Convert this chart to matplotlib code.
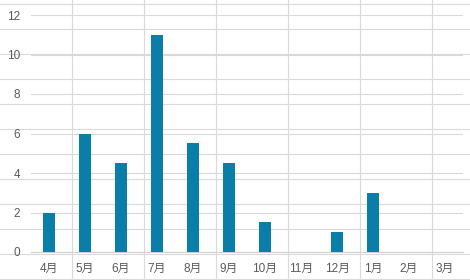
import matplotlib.pyplot as plt

plt.rcParams['font.family'] = ['Liberation Sans', 'Noto Sans CJK SC', 'DejaVu Sans']

# Monthly values (fiscal year Apr - Mar)
months = ["4月", "5月", "6月", "7月", "8月", "9月", "10月", "11月", "12月", "1月", "2月", "3月"]
values = [2, 6, 4.5, 11, 5.5, 4.5, 1.5, 0, 1, 3, 0, 0]
y_ticks = [0, 2, 4, 6, 8, 10, 12]

W, H = 470, 280
fig = plt.figure(figsize=(W / 100, H / 100), dpi=100)

# Spreadsheet cell grid behind the chart
bg = fig.add_axes([0, 0, 1, 1], zorder=-1)
bg.set_xlim(0, W)
bg.set_ylim(H, 0)
bg.axis("off")
for yy in range(4, H, 25):
    bg.axhline(yy, color="#dadada", lw=0.8)
for xx in range(72, W, 72):
    bg.axvline(xx, color="#dadada", lw=0.8)

# Chart itself (transparent plot area)
ax = fig.add_axes([31 / W, 28 / H, 432 / W, 237 / H])
ax.patch.set_alpha(0)
x = range(len(months))
ax.bar(x, values, width=0.33, color="#0B7DA9", zorder=3)

ax.set_xlim(-0.5, len(months) - 0.5)
ax.set_ylim(0, 12)
ax.set_yticks(y_ticks)
ax.set_xticks(list(x))
ax.set_xticklabels(months)
ax.grid(axis="y", color="#d9d9d9", lw=0.8, zorder=0)
for s in ["top", "right", "left"]:
    ax.spines[s].set_visible(False)
ax.spines["bottom"].set_color("#d0d0d0")
ax.spines["bottom"].set_linewidth(0.8)
ax.tick_params(length=0, labelsize=8.5, colors="#595959")
ax.tick_params(axis="y", pad=8)
ax.tick_params(axis="x", pad=8)

fig.savefig("out.png", dpi=100)
